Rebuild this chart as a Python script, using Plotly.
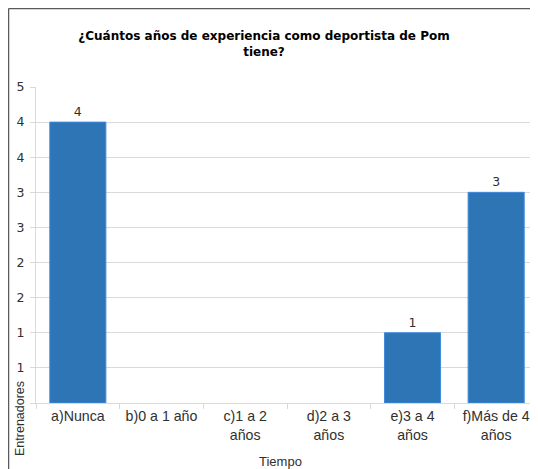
import plotly.graph_objects as go

categories = ['a)Nunca', 'b)0 a 1 año', 'c)1 a 2<br>años', 'd)2 a 3<br>años',
              'e)3 a 4<br>años', 'f)Más de 4<br>años']
entrenadores = [4, 0, 0, 0, 1, 3]
bar_labels = ['4', '', '', '', '1', '3']
y_tick_vals = [0, 0.5, 1, 1.5, 2, 2.5, 3, 3.5, 4, 4.5]
y_tick_text = ['', '1', '1', '2', '2', '3', '3', '4', '4', '5']

# the page body has an 8px margin, so the figure is drawn 8px in from the corner
OFF = 8
W, H = 538 - OFF, 469 - OFF
ML, MR, MT, MB = 36 - OFF, 0, 87 - OFF, 469 - 403
pw = W - ML - MR
ph = H - MT - MB


def px(x):
    return (x - OFF - ML) / pw


def py(y):
    return (H - MB - (y - OFF)) / ph


fig = go.Figure(go.Bar(
    x=categories,
    y=entrenadores,
    text=bar_labels,
    textposition='outside',
    cliponaxis=False,
    textfont=dict(family='DejaVu Sans', size=12.5, color='#303030'),
    marker=dict(color='#2e75b6',
                line=dict(color='#3f8ae0', width=[1 if v else 0 for v in entrenadores])),
    width=0.67,
))

# marco del grafico (izquierda y arriba)
fig.add_shape(type='line', xref='paper', yref='paper', x0=px(8.5), x1=px(8.5), y0=py(8.5), y1=py(475),
              line=dict(color='#5a5a5a', width=1.5))
fig.add_shape(type='line', xref='paper', yref='paper', x0=px(8.5), x1=px(545), y0=py(8.5), y1=py(8.5),
              line=dict(color='#5a5a5a', width=1.5))

fig.add_annotation(text='Entrenadores', xref='paper', yref='paper',
                   x=px(20), y=py(419), textangle=-90,
                   showarrow=False, xanchor='center', yanchor='middle',
                   font=dict(family='Liberation Sans', size=12.5, color='#303030'))
fig.add_annotation(text='Tiempo', xref='paper', yref='paper',
                   x=px(280), y=py(461),
                   showarrow=False, xanchor='center', yanchor='middle',
                   font=dict(family='Liberation Sans', size=13, color='#303030'))

fig.update_layout(
    width=W, height=H,
    margin=dict(l=ML, r=MR, t=MT, b=MB, autoexpand=False),
    paper_bgcolor='white', plot_bgcolor='white',
    showlegend=False,
    title=dict(text='<b>¿Cuántos años de experiencia como deportista de Pom<br>tiene?</b>',
               x=(264 - OFF) / W, xanchor='center', y=1 - (40 - OFF) / H, yanchor='middle',
               font=dict(family='DejaVu Sans', size=12, color='black')),
)
fig.update_xaxes(
    type='category', showgrid=False, showline=True, linecolor='#d9d9d9',
    ticks='outside', tickson='boundaries', ticklen=5, tickcolor='#d9d9d9',
    tickfont=dict(family='Liberation Sans', size=14.2, color='#303030'),
)
fig.update_yaxes(
    range=[0, 4.5], tickvals=y_tick_vals, ticktext=y_tick_text,
    showgrid=True, gridcolor='#d9d9d9', showline=True, linecolor='#d9d9d9',
    ticks='outside', ticklen=5, tickcolor='#d9d9d9', zeroline=False,
    ticklabelstandoff=3,
    tickfont=dict(family='DejaVu Sans', size=12.5, color='#303030'),
)

fig.write_html('out.html')
